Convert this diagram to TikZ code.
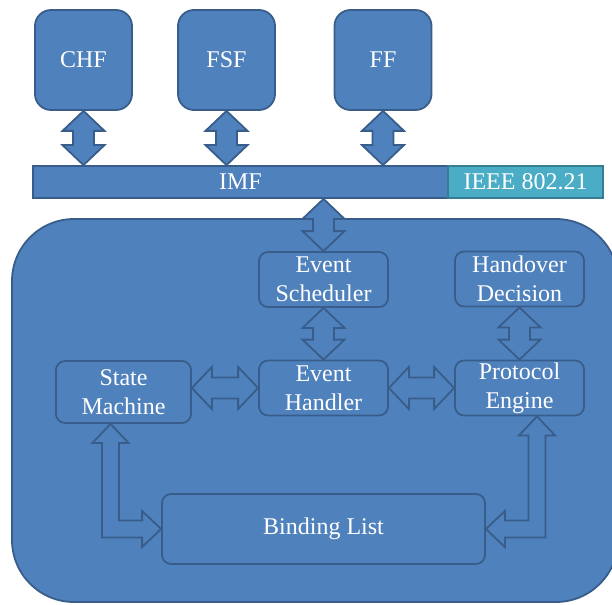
\documentclass[tikz,border=0pt]{standalone}
\usepackage{fontspec}
\setmainfont{Liberation Serif}
\usetikzlibrary{positioning, calc}

\definecolor{boxblue}{HTML}{4F81BD}
\definecolor{boxedge}{HTML}{385D8A}
\definecolor{ieeeteal}{HTML}{4BACC6}
\definecolor{ieeeedge}{HTML}{357D91}

% Block arrows: vertical (upper -> lower), horizontal (left -> right)
\newcommand{\vblk}[2]{\path[blk] let \p1=(#1), \p2=(#2) in
  (\x1,\y1) -- (\x1+21pt,\y1-20pt) -- (\x1+10.5pt,\y1-20pt) -- (\x1+10.5pt,\y2+20pt)
  -- (\x1+21pt,\y2+20pt) -- (\x1,\y2) -- (\x1-21pt,\y2+20pt) -- (\x1-10.5pt,\y2+20pt)
  -- (\x1-10.5pt,\y1-20pt) -- (\x1-21pt,\y1-20pt) -- cycle;}
\newcommand{\hblk}[2]{\path[blk] let \p1=(#1), \p2=(#2) in
  (\x1,\y1) -- (\x1+20pt,\y1+21pt) -- (\x1+20pt,\y1+10.5pt) -- (\x2-20pt,\y1+10.5pt)
  -- (\x2-20pt,\y1+21pt) -- (\x2,\y1) -- (\x2-20pt,\y1-21pt) -- (\x2-20pt,\y1-10.5pt)
  -- (\x1+20pt,\y1-10.5pt) -- (\x1+20pt,\y1-21pt) -- cycle;}
% Elbow arrows: up tip -> side tip
\newcommand{\elbr}[2]{\path[blk] let \p1=(#1), \p2=(#2) in
  (\x1,\y1) -- (\x1+18pt,\y1-19pt) -- (\x1+8.5pt,\y1-19pt) -- (\x1+8.5pt,\y2+8.5pt)
  -- (\x2-19pt,\y2+8.5pt) -- (\x2-19pt,\y2+18pt) -- (\x2,\y2) -- (\x2-19pt,\y2-18pt)
  -- (\x2-19pt,\y2-8.5pt) -- (\x1-8.5pt,\y2-8.5pt) -- (\x1-8.5pt,\y1-19pt)
  -- (\x1-18pt,\y1-19pt) -- cycle;}
\newcommand{\elbl}[2]{\path[blk] let \p1=(#1), \p2=(#2) in
  (\x1,\y1) -- (\x1+18pt,\y1-19pt) -- (\x1+8.5pt,\y1-19pt) -- (\x1+8.5pt,\y2-8.5pt)
  -- (\x2+19pt,\y2-8.5pt) -- (\x2+19pt,\y2-18pt) -- (\x2,\y2) -- (\x2+19pt,\y2+18pt)
  -- (\x2+19pt,\y2+8.5pt) -- (\x1-8.5pt,\y2+8.5pt) -- (\x1-8.5pt,\y1-19pt)
  -- (\x1-18pt,\y1-19pt) -- cycle;}

\begin{document}
\begin{tikzpicture}[x=1pt, y=-1pt, on grid, line width=1.8pt,
    every node/.style={text=white, font=\fontsize{24}{29}\selectfont, align=center},
    topbox/.style={draw=boxedge, fill=boxblue, rounded corners=16pt, minimum width=97pt, minimum height=100pt},
    inbox/.style={draw=boxedge, fill=boxblue, rounded corners=9pt, minimum width=129pt, minimum height=55pt, inner sep=2pt},
    bar/.style={draw=boxedge, fill=boxblue, minimum height=32pt, inner sep=0pt},
    blk/.style={draw=boxedge, fill=boxblue}]
    \useasboundingbox (0,0) rectangle (612,604);

    % Functions on top
    \node[topbox] (chf) at (83.5,60) {CHF};
    \node[topbox] (fsf) [right=143pt of chf] {FSF};
    \node[topbox] (ff) [right=156.5pt of fsf] {FF};

    % Bus
    \node[bar, minimum width=415pt] (imf) at (240.5,182) {IMF};
    \node[bar, minimum width=155pt, draw=ieeeedge, fill=ieeeteal] (ieee) at (525.5,182) {IEEE 802.21};

    % Core block
    \begin{scope}
        \clip (0,0) rectangle (612,604);
        \node[draw=boxedge, fill=boxblue, rounded corners=62pt, minimum width=606pt, minimum height=383pt] (core) at (315,410.5) {};
    \end{scope}

    % Modules
    \node[inbox] (es) at (323.5,279.5) {Event\\Scheduler};
    \node[inbox] (eh) [below=108.5pt of es] {Event\\Handler};
    \node[inbox] (pe) [right=196pt of eh] {Protocol\\Engine};
    \node[inbox] (hd) [above=109pt of pe] {Handover\\Decision};
    \node[inbox, minimum width=135pt, minimum height=62pt] (sm) at (123.5,392) {State\\Machine};
    \node[inbox, minimum width=323pt, minimum height=70pt] (bl) [below=141pt of eh] {Binding List};

    % Block arrows
    \vblk{chf.south}{chf.south |- imf.north}
    \vblk{fsf.south}{fsf.south |- imf.north}
    \vblk{ff.south}{ff.south |- imf.north}
    \vblk{es.north |- imf.south}{es.north}
    \vblk{es.south}{eh.north}
    \vblk{hd.south}{pe.north}
    \hblk{sm.east |- eh.west}{eh.west}
    \hblk{eh.east}{pe.west}
    \elbr{[xshift=-13pt]sm.south}{bl.west}
    \elbl{[xshift=17.5pt]pe.south}{bl.east}

\end{tikzpicture}
\end{document}
